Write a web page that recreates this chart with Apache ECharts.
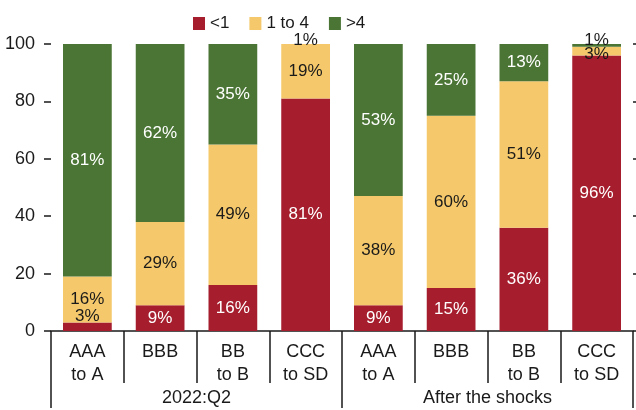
<!DOCTYPE html>
<html>
<head>
<meta charset="utf-8">
<script src="https://cdn.jsdelivr.net/npm/echarts@6/dist/echarts.min.js"></script>
<style>html,body{margin:0;padding:0;background:#fff}#c{width:636px;height:410px}</style>
</head>
<body>
<div id="c"></div>
<script>
var categories = ['AAA\nto A', 'BBB', 'BB\nto B', 'CCC\nto SD', 'AAA\nto A', 'BBB', 'BB\nto B', 'CCC\nto SD'];
var groups = ['2022:Q2', 'After the shocks'];
var seriesNames = ['<1', '1 to 4', '>4'];
var lessThan1 = [3, 9, 16, 81, 9, 15, 36, 96];
var oneTo4 = [16, 29, 49, 19, 38, 60, 51, 3];
var moreThan4 = [81, 62, 35, 1, 53, 25, 13, 1];
var yTicks = [0, 20, 40, 60, 80, 100];

var FONT = '"Liberation Sans", Arial, sans-serif';
var RED = '#A61E2E', YEL = '#F5C96B', GRN = '#4A7535', TXT = '#1a1a1a';

function items(vals, kind) {
  return vals.map(function (v) {
    var it = { value: v };
    if (kind === 'red' && v <= 3) {
      it.label = { color: TXT, offset: [0, -10] };
    } else if (kind === 'grn' && v <= 1) {
      it.label = { color: TXT, position: 'top', offset: [0, 10] };
    } else if (kind === 'yel' && v <= 3) {
      it.label = { offset: [0, 3] };
    }
    return it;
  });
}

function mkSeries(name, vals, color, txt, kind) {
  return {
    name: name, type: 'bar', stack: 's', barWidth: '67%',
    itemStyle: { color: color },
    label: {
      show: true, position: 'inside', color: txt, fontSize: 17, fontFamily: FONT,
      formatter: function (p) { return p.value + '%'; }
    },
    data: items(vals, kind)
  };
}

var chart = echarts.init(document.getElementById('c'));
chart.setOption({
  animation: false,
  legend: {
    top: 10, left: 188, itemWidth: 12, itemHeight: 13, itemGap: 20,
    icon: 'rect',
    textStyle: { fontSize: 17, fontFamily: FONT, color: TXT },
    data: seriesNames
  },
  grid: { left: 51, right: 3, top: 44, bottom: 79, containLabel: false },
  xAxis: [{
    type: 'category', data: categories, position: 'bottom',
    axisLine: { show: true, lineStyle: { color: TXT, width: 1.5 } },
    axisTick: { show: true, interval: 0, length: 52, lineStyle: { color: TXT, width: 1.5 } },
    axisLabel: { interval: 0, fontSize: 18, fontFamily: FONT, color: TXT, lineHeight: 23, margin: 10 }
  }, {
    type: 'category', data: groups, position: 'bottom',
    axisLine: { show: false },
    axisTick: { show: true, interval: 0, length: 77, lineStyle: { color: TXT, width: 1.5 } },
    axisLabel: { interval: 0, fontSize: 18, fontFamily: FONT, color: TXT, margin: 58 }
  }],
  yAxis: [{
    type: 'value', min: 0, max: 100, interval: 20, position: 'left',
    axisLine: { show: false },
    axisTick: { show: true, length: 7, lineStyle: { color: TXT, width: 1.5 } },
    splitLine: { show: false },
    axisLabel: { fontSize: 18, fontFamily: FONT, color: TXT, margin: 16,
      formatter: function (v) { return yTicks.indexOf(v) >= 0 ? String(v) : ''; } }
  }, {
    type: 'value', min: 0, max: 100, interval: 20, position: 'right',
    axisLine: { show: false },
    axisTick: { show: true, length: 4, lineStyle: { color: TXT, width: 1.5 } },
    splitLine: { show: false },
    axisLabel: { show: false }
  }],
  series: [
    mkSeries(seriesNames[0], lessThan1, RED, '#fff', 'red'),
    mkSeries(seriesNames[1], oneTo4, YEL, TXT, 'yel'),
    mkSeries(seriesNames[2], moreThan4, GRN, '#fff', 'grn')
  ]
});
</script>
</body>
</html>
